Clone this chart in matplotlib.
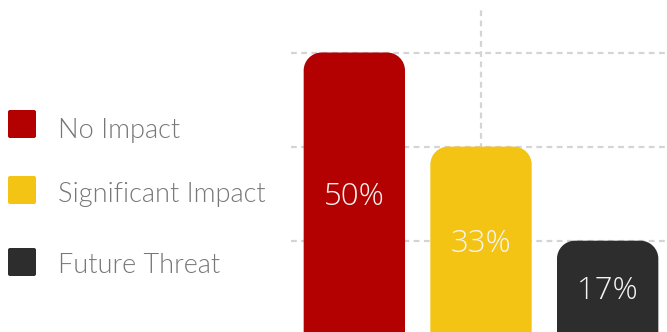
import numpy as np
import matplotlib
matplotlib.use("Agg")
import matplotlib.pyplot as plt
from matplotlib.path import Path
from matplotlib.patches import PathPatch, FancyBboxPatch

# Survey responses per category
categories = ["No Impact", "Significant Impact", "Future Threat"]
responses = [3, 2, 1]
colors = ["#b30000", "#f3c413", "#2d2d2d"]

total = sum(responses)
shares = [100.0 * r / total for r in responses]
labels = [f"{s:.0f}%" for s in shares]
grid_levels = [100.0 * k / total for k in range(1, max(responses) + 1)]

W, H, DPI = 667, 332, 100
fig = plt.figure(figsize=(W / DPI, H / DPI), dpi=DPI)
fig.patch.set_facecolor("white")

# Axes placed in pixel terms; right and bottom edges run past the canvas
ax_left, ax_top, ax_w, ax_zero = 291, 10, 380, 334.8
ax = fig.add_axes([ax_left / W, (H - ax_zero) / H, ax_w / W, (ax_zero - ax_top) / H])
ymax = shares[0] * (ax_zero - ax_top) / (ax_zero - 52.5)
ax.set_xlim(-0.5, len(categories) - 0.5)
ax.set_ylim(0, ymax)
for s in ax.spines.values():
    s.set_visible(False)
ax.tick_params(length=0, labelleft=False, labelbottom=False)
ax.set_xticks([1])
ax.set_yticks(grid_levels)
ax.grid(True, color="#d4d4d4", linestyle=(0, (2.6, 2.0)), linewidth=1.6)
ax.set_axisbelow(True)

# Conversion from pixels to data units for the corner radius
p0 = ax.transData.transform((0, 0))
p1 = ax.transData.transform((1, 1))
px_x, px_y = p1[0] - p0[0], p1[1] - p0[1]
radius = 18
rx, ry = radius / px_x, radius / px_y
k = 0.5523
bar_w = 0.8

def rounded_top_bar(xc, h, color):
    x0, x1 = xc - bar_w / 2, xc + bar_w / 2
    verts = [
        (x0, 0), (x0, h - ry),
        (x0, h - ry + k * ry), (x0 + rx - k * rx, h), (x0 + rx, h),
        (x1 - rx, h),
        (x1 - rx + k * rx, h), (x1, h - ry + k * ry), (x1, h - ry),
        (x1, 0), (x0, 0),
    ]
    codes = [Path.MOVETO, Path.LINETO,
             Path.CURVE4, Path.CURVE4, Path.CURVE4,
             Path.LINETO,
             Path.CURVE4, Path.CURVE4, Path.CURVE4,
             Path.LINETO, Path.CLOSEPOLY]
    ax.add_patch(PathPatch(Path(verts, codes), facecolor=color,
                           edgecolor="none", zorder=3))

for i, (s, c, lab) in enumerate(zip(shares, colors, labels)):
    rounded_top_bar(i, s, c)
    ax.annotate(lab, xy=(i, s / 2), xytext=(0, -8.0), textcoords="offset points",
                ha="center", va="baseline", color="#f4f4f4", fontsize=22.5,
                family=["Open Sans", "DejaVu Sans"], fontweight="light", zorder=4)

# Legend drawn in pixel coordinates on the left
px = fig.dpi_scale_trans
sq_tops = [110, 176, 248]
text_base = [138, 202, 273]
for name, c, top, base in zip(categories, colors, sq_tops, text_base):
    fig.patches.append(FancyBboxPatch(
        (8 / DPI, (H - top - 28) / DPI), 28 / DPI, 28 / DPI,
        boxstyle="round,pad=0,rounding_size=0.02", transform=px,
        facecolor=c, edgecolor="none", figure=fig))
    fig.text(58 / DPI, (H - base) / DPI, name, transform=px, ha="left",
             va="baseline", fontsize=19.5, color="#777777",
             family=["Lato", "DejaVu Sans"], fontweight=300)

fig.savefig("out.png", dpi=DPI, facecolor="white")
